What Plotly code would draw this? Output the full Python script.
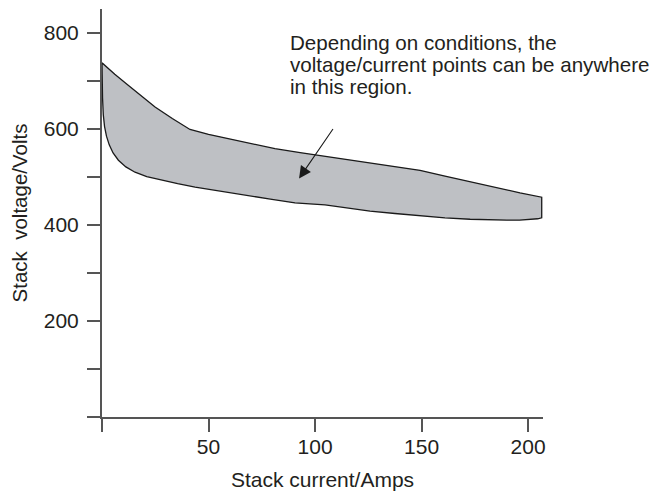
import plotly.graph_objects as go

# Upper boundary of the operating region (current A, voltage V)
upper_current = [0, 6.0, 12.3, 18.5, 24.9, 33.0, 41.3, 50.0, 59.3, 70.0, 81.2, 93.0, 104.7,
                 115.0, 125.8, 137.5, 149.3, 161.0, 172.8, 184.5, 196.2, 206.4]
upper_voltage = [738, 714, 691, 668, 646, 622, 599, 589, 580, 569, 559, 551, 543,
                 537, 530, 522, 514, 502, 490, 478, 467, 458]

# Lower boundary (from right to left)
lower_current = [206.4, 204.5, 202.3, 196.0, 190.0, 181.0, 172.8, 161.0, 149.3, 137.5, 125.8,
                 115.0, 104.7, 97.5, 90.6, 79.0, 67.0, 55.0, 43.7, 35.5, 28.0, 21.0, 15.5,
                 11.2, 7.7, 5.2, 3.4, 2.1, 1.2, 0.6, 0.25, 0]
lower_voltage = [415, 413, 412, 410, 410, 411, 412, 415, 419, 424, 429,
                 436, 442, 444, 446, 454, 462, 470, 479, 486, 493, 501, 510,
                 521, 535, 550, 567, 585, 605, 630, 665, 738]

x_tick_vals = [0, 50, 100, 150, 200]
x_tick_text = ["", "50", "100", "150", "200"]
y_tick_vals = [0, 100, 200, 300, 400, 500, 600, 700, 800]
y_tick_text = ["", "", "200", "", "400", "", "600", "", "800"]

note_lines = ["Depending on conditions, the",
              "voltage/current points can be anywhere",
              "in this region."]

FONT = "Liberation Sans, Arial, Helvetica, sans-serif"
TXT = "#231f20"
AX = "#555555"

fig = go.Figure()
fig.add_trace(go.Scatter(
    x=upper_current + lower_current,
    y=upper_voltage + lower_voltage,
    mode="lines",
    fill="toself",
    fillcolor="#bec0c4",
    line=dict(color="#1a1a1a", width=1.3),
    hoverinfo="skip",
    showlegend=False,
))

# note text (three lines, tight spacing)
for i, t in enumerate(note_lines):
    fig.add_annotation(
        x=87.8, y=807 - i * 46, xref="x", yref="y",
        text=t, showarrow=False, xanchor="left", yanchor="top",
        borderpad=0,
        font=dict(family=FONT, size=20.6, color=TXT),
    )

# arrow
fig.add_annotation(
    x=92.5, y=497, ax=108.9, ay=603, xref="x", yref="y", axref="x", ayref="y",
    text="", showarrow=True, arrowhead=2, arrowsize=2.2, arrowwidth=1.1,
    arrowcolor="#1a1a1a",
)

# page body has an 8px offset; margins compensate so the axes land where the reference has them
fig.update_layout(
    width=662, height=491,
    margin=dict(l=94, r=127, t=1, b=82),
    paper_bgcolor="white", plot_bgcolor="white",
    font=dict(family=FONT, size=21, color=TXT),
    showlegend=False,
)
fig.update_xaxes(
    range=[0, 207], tickvals=x_tick_vals, ticktext=x_tick_text,
    ticks="outside", ticklen=10, tickwidth=2, tickcolor=AX,
    minor=dict(tickvals=x_tick_vals, ticks="outside", ticklen=13, tickwidth=2, tickcolor=AX, showgrid=False),
    showline=True, linecolor=AX, linewidth=2, showgrid=False, zeroline=False,
    automargin=False,
    title=dict(text="Stack current/Amps", font=dict(size=21, color=TXT), standoff=15),
    tickfont=dict(size=21, color=TXT),
)
fig.update_yaxes(
    range=[0, 850], tickvals=y_tick_vals, ticktext=y_tick_text,
    ticks="outside", ticklen=13, tickwidth=2, tickcolor=AX,
    ticklabelstandoff=4,
    showline=True, linecolor=AX, linewidth=2, showgrid=False, zeroline=False,
    automargin=False,
    title=dict(text="Stack  voltage/Volts", font=dict(size=20.5, color=TXT), standoff=13),
    tickfont=dict(size=21, color=TXT),
)

fig.write_html("out.html")
